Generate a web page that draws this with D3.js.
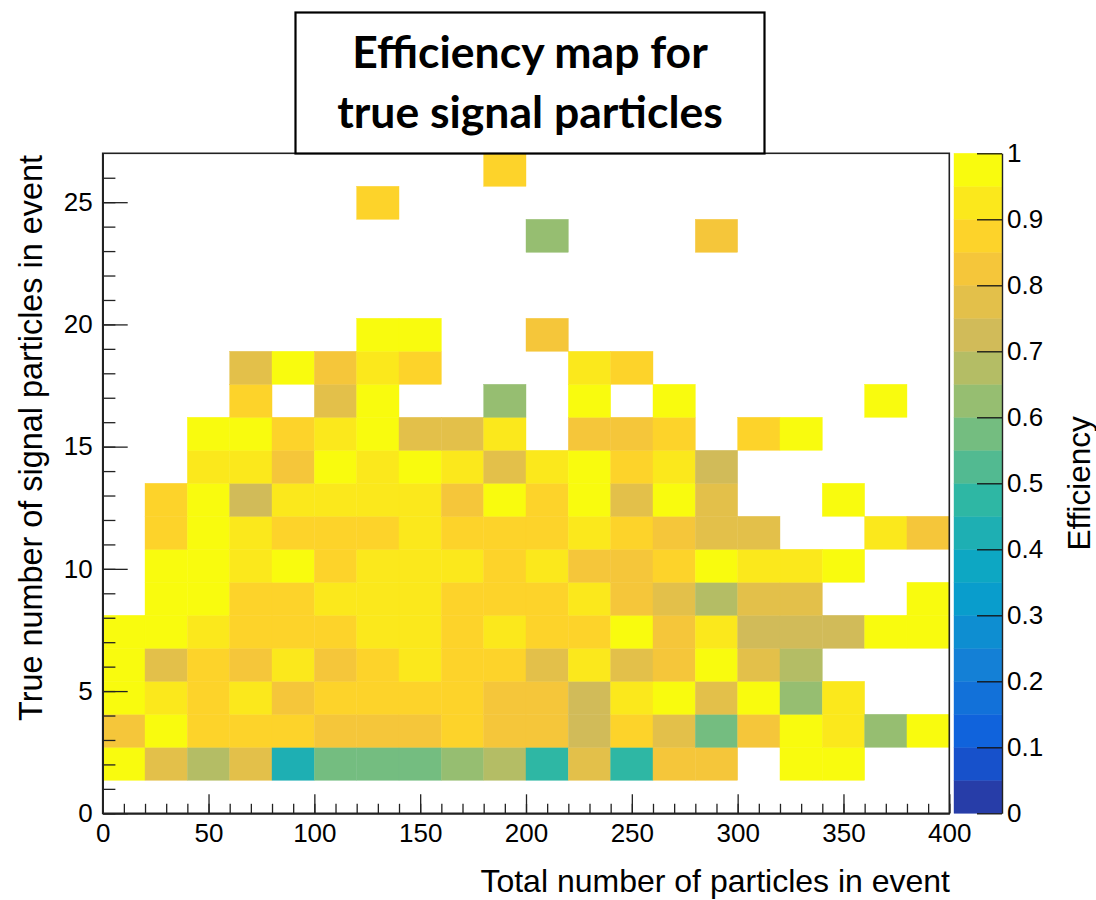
<!DOCTYPE html>
<html>
<head>
<meta charset="utf-8">
<script src="https://cdn.jsdelivr.net/npm/d3@7/dist/d3.min.js"></script>
<style>
  body { margin: 0; background: #fff; }
  text { font-family: "Liberation Sans", Arial, Helvetica, sans-serif; fill: #000; }
</style>
</head>
<body>
<svg width="1096" height="900"></svg>
<script>
// bin edges of the 2D histogram
var xEdges = [0, 20, 40, 60, 80, 100, 120, 140, 160, 180, 200, 220, 240, 260, 280, 300, 320, 340, 360, 380, 400];
var yEdges = [0, 1.35, 2.7, 4.05, 5.4, 6.75, 8.1, 9.45, 10.8, 12.15, 13.5, 14.85, 16.2, 17.55, 18.9, 20.25, 21.6, 22.95, 24.3, 25.65, 27];

var xTicks = [0, 50, 100, 150, 200, 250, 300, 350, 400];
var yTicks = [0, 5, 10, 15, 20, 25];
var zTicks = [0, 0.1, 0.2, 0.3, 0.4, 0.5, 0.6, 0.7, 0.8, 0.9, 1];

// efficiency per bin, one row per y bin (bottom row first), null = empty bin
var _ = null;
var efficiency = [
  [_, _, _, _, _, _, _, _, _, _, _, _, _, _, _, _, _, _, _, _],
  [1, .78, .68, .78, .43, .58, .58, .58, .63, .68, .48, .78, .48, .83, .83, _, 1, 1, _, _],
  [.83, 1, .88, .88, .88, .83, .83, .83, .88, .83, .83, .73, .88, .78, .58, .83, 1, .93, .63, 1],
  [1, .93, .88, .93, .83, .88, .88, .88, .88, .83, .83, .73, .93, 1, .78, 1, .63, .93, _, _],
  [1, .78, .88, .83, .93, .83, .88, .93, .88, .88, .78, .93, .78, .83, 1, .78, .68, _, _, _],
  [1, 1, .93, .88, .88, .88, .93, .93, .88, .93, .88, .88, 1, .83, .93, .73, .73, .73, 1, 1],
  [_, 1, 1, .88, .88, .93, .93, .93, .88, .88, .88, .93, .83, .78, .68, .78, .78, _, _, 1],
  [_, 1, 1, .93, 1, .88, .93, .93, .93, .88, .93, .83, .83, .88, 1, .93, .93, 1, _, _],
  [_, .88, 1, .93, .88, .88, .88, .93, .88, .88, .88, .93, .88, .83, .78, .78, _, _, .93, .83],
  [_, .88, 1, .73, .93, .93, .93, .93, .83, 1, .88, 1, .78, 1, .78, _, _, 1, _, _],
  [_, _, .93, .93, .83, 1, .93, 1, .93, .78, .93, 1, .88, .93, .73, _, _, _, _, _],
  [_, _, 1, 1, .88, .93, 1, .78, .78, .93, _, .83, .83, .88, _, .88, 1, _, _, _],
  [_, _, _, .88, _, .78, 1, _, _, .63, _, 1, _, 1, _, _, _, _, 1, _],
  [_, _, _, .78, 1, .83, .93, .88, _, _, _, .93, .88, _, _, _, _, _, _, _],
  [_, _, _, _, _, _, 1, 1, _, _, .83, _, _, _, _, _, _, _, _, _],
  [_, _, _, _, _, _, _, _, _, _, _, _, _, _, _, _, _, _, _, _],
  [_, _, _, _, _, _, _, _, _, _, _, _, _, _, _, _, _, _, _, _],
  [_, _, _, _, _, _, _, _, _, _, .63, _, _, _, .83, _, _, _, _, _],
  [_, _, _, _, _, _, .88, _, _, _, _, _, _, _, _, _, _, _, _, _],
  [_, _, _, _, _, _, _, _, _, .88, _, _, _, _, _, _, _, _, _, _]
];

// ROOT kBird palette
var birdStops = [0, 0.125, 0.25, 0.375, 0.5, 0.625, 0.75, 0.875, 1];
var birdRed   = [0.2082, 0.0592, 0.0780, 0.0232, 0.1802, 0.5301, 0.8186, 0.9956, 0.9764];
var birdGreen = [0.1664, 0.3599, 0.5041, 0.6419, 0.7178, 0.7492, 0.7328, 0.7862, 0.9832];
var birdBlue  = [0.5293, 0.8684, 0.8385, 0.7914, 0.6425, 0.4662, 0.3499, 0.1968, 0.0539];

var nLevels = 20;

var palette = d3.scaleLinear()
    .domain(birdStops)
    .range(birdStops.map(function(s, i) {
      return d3.rgb(birdRed[i] * 255, birdGreen[i] * 255, birdBlue[i] * 255);
    }))
    .interpolate(d3.interpolateRgb);

function levelColor(k) {
  // same index pick as ROOT does for 255 colours and 20 contours
  var idx = Math.floor((k + 0.99) * 255 / nLevels);
  return palette(Math.min(idx, 254) / 254);
}

function effColor(v) {
  var k = Math.min(Math.floor(v * nLevels), nLevels - 1);
  return levelColor(k);
}

var svg = d3.select("svg");

var x = d3.scaleLinear().domain([0, 400]).range([102.7, 949.3]);
var y = d3.scaleLinear().domain([0, 27]).range([813.3, 153.3]);
var z = d3.scaleLinear().domain([0, 1]).range([813.3, 153.3]);

// cells
var cells = [];
efficiency.forEach(function(row, j) {
  row.forEach(function(v, i) {
    if (v !== null) cells.push({ i: i, j: j, v: v });
  });
});

svg.append("g")
  .selectAll("rect")
  .data(cells)
  .enter()
  .append("rect")
    .attr("x", function(d) { return x(xEdges[d.i]); })
    .attr("y", function(d) { return y(yEdges[d.j + 1]); })
    .attr("width", function(d) { return x(xEdges[d.i + 1]) - x(xEdges[d.i]); })
    .attr("height", function(d) { return y(yEdges[d.j]) - y(yEdges[d.j + 1]); })
    .attr("fill", function(d) { return effColor(d.v); })
    .attr("stroke", function(d) { return effColor(d.v); })
    .attr("stroke-width", 0.4);

// frame
svg.append("rect")
  .attr("x", x(0)).attr("y", y(27))
  .attr("width", x(400) - x(0)).attr("height", y(0) - y(27))
  .attr("fill", "none").attr("stroke", "#222").attr("stroke-width", 1.6);

// x axis: minor then major
var xMinor = svg.append("g").attr("transform", "translate(0," + y(0) + ")")
  .call(d3.axisBottom(x).tickValues(xEdges.concat(d3.range(10, 400, 20))).tickSizeInner(-9.5).tickSizeOuter(0).tickFormat(""));
var xMajor = svg.append("g").attr("transform", "translate(0," + y(0) + ")")
  .call(d3.axisBottom(x).tickValues(xTicks).tickSizeInner(-19).tickSizeOuter(0).tickPadding(10).tickFormat(d3.format("d")));

var yMinor = svg.append("g").attr("transform", "translate(" + x(0) + ",0)")
  .call(d3.axisLeft(y).tickValues(d3.range(0, 27, 1)).tickSizeInner(-12.7).tickSizeOuter(0).tickFormat(""));
var yMajor = svg.append("g").attr("transform", "translate(" + x(0) + ",0)")
  .call(d3.axisLeft(y).tickValues(yTicks).tickSizeInner(-25).tickSizeOuter(0).tickPadding(10).tickFormat(d3.format("d")));

[xMinor, xMajor, yMinor, yMajor].forEach(function(g) {
  g.select(".domain").attr("stroke", "#222").attr("stroke-width", 1.6);
  g.selectAll(".tick line").attr("stroke", "#222").attr("stroke-width", 1.3);
  g.selectAll(".tick text").style("font-size", "26px").attr("fill", "#000");
});
xMajor.selectAll(".tick text").attr("dy", "0.72em");

// axis titles
svg.append("text")
  .attr("x", 950).attr("y", 892)
  .attr("text-anchor", "end")
  .style("font-size", "32px")
  .text("Total number of particles in event");

svg.append("text")
  .attr("transform", "translate(42,155) rotate(-90)")
  .attr("text-anchor", "end")
  .style("font-size", "32.4px")
  .text("True number of signal particles in event");

// colour bar
var barX0 = 954, barX1 = 1002;
svg.append("g")
  .selectAll("rect")
  .data(d3.range(nLevels))
  .enter()
  .append("rect")
    .attr("x", barX0)
    .attr("y", function(k) { return z((k + 1) / nLevels); })
    .attr("width", barX1 - barX0)
    .attr("height", function(k) { return z(k / nLevels) - z((k + 1) / nLevels); })
    .attr("fill", function(k) { return levelColor(k); })
    .attr("stroke", function(k) { return levelColor(k); })
    .attr("stroke-width", 0.4);

var zAxis = svg.append("g").attr("transform", "translate(" + barX1 + ",0)")
  .call(d3.axisRight(z).tickValues(zTicks).tickSizeInner(-25).tickSizeOuter(0).tickPadding(5).tickFormat(d3.format("~g")));
zAxis.select(".domain").attr("stroke", "#222").attr("stroke-width", 1.4);
zAxis.selectAll(".tick line").attr("stroke", "#111").attr("stroke-width", 1.3);
zAxis.selectAll(".tick text").style("font-size", "26px").attr("fill", "#000");

svg.append("text")
  .attr("transform", "translate(1090,483.3) rotate(-90)")
  .attr("text-anchor", "middle")
  .style("font-size", "31.5px")
  .text("Efficiency");

// title box
svg.append("rect")
  .attr("x", 295.5).attr("y", 12.5)
  .attr("width", 469).attr("height", 141)
  .attr("fill", "#fff").attr("stroke", "#000").attr("stroke-width", 2.2);

var titleLines = ["Efficiency map for", "true signal particles"];
svg.append("g")
  .selectAll("text")
  .data(titleLines)
  .enter()
  .append("text")
    .attr("x", 530)
    .attr("y", function(d, i) { return 68 + i * 60; })
    .attr("text-anchor", "middle")
    .style("font-family", "Lato, 'Open Sans', sans-serif")
    .style("font-weight", "bold")
    .style("font-size", "44.5px")
    .text(function(d) { return d; });
</script>
</body>
</html>
